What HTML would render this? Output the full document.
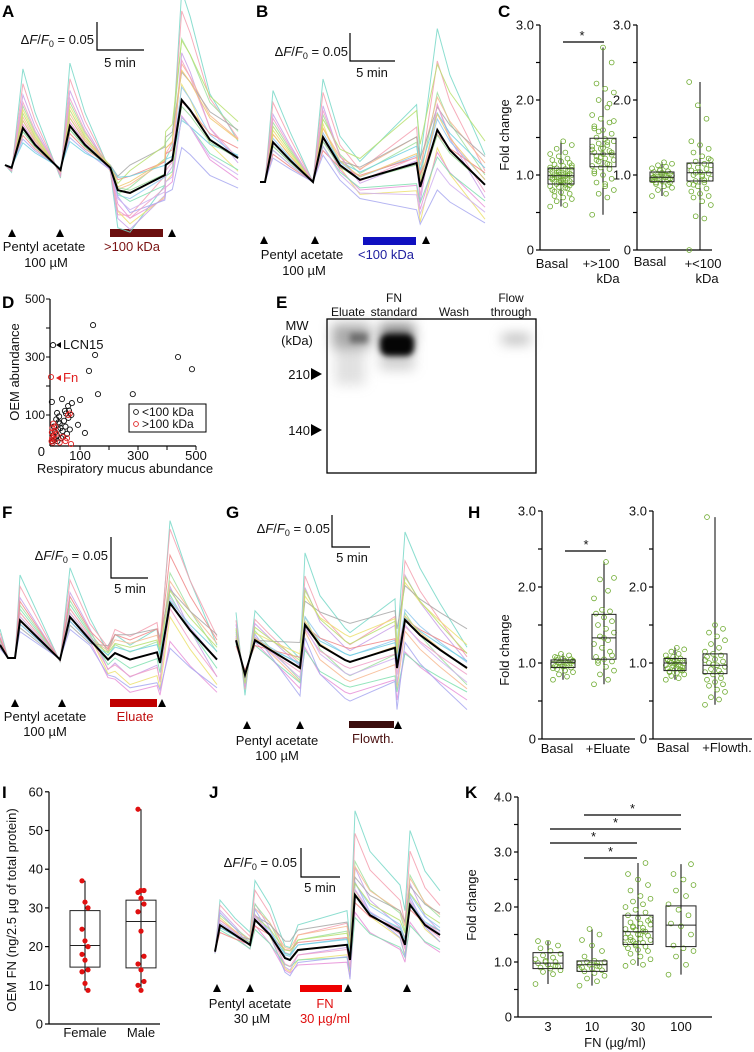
<!DOCTYPE html>
<html><head><meta charset="utf-8">
<style>
html,body{margin:0;padding:0;background:#fff;}
svg{display:block;font-family:"Liberation Sans",Arial,sans-serif;}
.t{font-size:13px;fill:#111;}
.s{font-size:12px;fill:#111;}
.pl{font-size:17px;font-weight:bold;fill:#000;}
</style></head>
<body>
<svg id="fig" width="754" height="1052" viewBox="0 0 754 1052" xmlns="http://www.w3.org/2000/svg">
<defs>
<filter id="blur3" x="-50%" y="-50%" width="200%" height="200%" color-interpolation-filters="sRGB"><feGaussianBlur stdDeviation="3"/></filter>
<filter id="blur6" x="-50%" y="-50%" width="200%" height="200%" color-interpolation-filters="sRGB"><feGaussianBlur stdDeviation="6"/></filter>
</defs>
<text class="pl" x="2" y="17">A</text>
<text class="pl" x="256" y="17">B</text>
<text class="pl" x="498" y="17">C</text>
<text class="pl" x="2" y="308">D</text>
<text class="pl" x="276" y="308">E</text>
<text class="pl" x="2" y="518">F</text>
<text class="pl" x="226" y="518">G</text>
<text class="pl" x="468" y="518">H</text>
<text class="pl" x="2" y="798">I</text>
<text class="pl" x="209" y="798">J</text>
<text class="pl" x="465" y="798">K</text>

<g>
<text class="t" x="94" y="44" text-anchor="end">Δ<tspan font-style="italic">F</tspan>/<tspan font-style="italic">F</tspan><tspan font-size="9" dy="3">0</tspan><tspan dy="-3"> = 0.05</tspan></text>
<path d="M97 22 V50 H144" stroke="#000" fill="none" stroke-width="1.2"/>
<text class="t" x="120" y="67" text-anchor="middle">5 min</text>
</g>
<text class="t" x="44" y="251" text-anchor="middle">Pentyl acetate</text>
<text class="t" x="46" y="267" text-anchor="middle">100 µM</text>
<rect x="110" y="229" width="53" height="8" fill="#6b0f0f"/>
<text class="t" x="132" y="251" text-anchor="middle" style="fill:#7a1212">&gt;100 kDa</text>

<g>
<text class="t" x="348" y="56" text-anchor="end">Δ<tspan font-style="italic">F</tspan>/<tspan font-style="italic">F</tspan><tspan font-size="9" dy="3">0</tspan><tspan dy="-3"> = 0.05</tspan></text>
<path d="M350 33 V61 H395" stroke="#000" fill="none" stroke-width="1.2"/>
<text class="t" x="372" y="77" text-anchor="middle">5 min</text>
</g>
<text class="t" x="302" y="259" text-anchor="middle">Pentyl acetate</text>
<text class="t" x="304" y="275" text-anchor="middle">100 µM</text>
<rect x="363" y="237" width="53" height="8" fill="#1010c0"/>
<text class="t" x="386" y="259" text-anchor="middle" style="fill:#2020a0">&lt;100 kDa</text>

<g>
<text class="t" x="108" y="560" text-anchor="end">Δ<tspan font-style="italic">F</tspan>/<tspan font-style="italic">F</tspan><tspan font-size="9" dy="3">0</tspan><tspan dy="-3"> = 0.05</tspan></text>
<path d="M111 537 V578 H148" stroke="#000" fill="none" stroke-width="1.2"/>
<text class="t" x="130" y="593" text-anchor="middle">5 min</text>
</g>
<text class="t" x="45" y="721" text-anchor="middle">Pentyl acetate</text>
<text class="t" x="45" y="736" text-anchor="middle">100 µM</text>
<rect x="110" y="699" width="47" height="8" fill="#c00000"/>
<text class="t" x="135" y="721" text-anchor="middle" style="fill:#c01010">Eluate</text>

<g>
<text class="t" x="330" y="533" text-anchor="end">Δ<tspan font-style="italic">F</tspan>/<tspan font-style="italic">F</tspan><tspan font-size="9" dy="3">0</tspan><tspan dy="-3"> = 0.05</tspan></text>
<path d="M332 515 V547 H370" stroke="#000" fill="none" stroke-width="1.2"/>
<text class="t" x="352" y="562" text-anchor="middle">5 min</text>
</g>
<text class="t" x="277" y="745" text-anchor="middle">Pentyl acetate</text>
<text class="t" x="277" y="760" text-anchor="middle">100 µM</text>
<rect x="349" y="721" width="45" height="7" fill="#3a0c0c"/>
<text class="t" x="373" y="743" text-anchor="middle" style="fill:#4a1010">Flowth.</text>

<g>
<text class="t" x="297" y="867" text-anchor="end">Δ<tspan font-style="italic">F</tspan>/<tspan font-style="italic">F</tspan><tspan font-size="9" dy="3">0</tspan><tspan dy="-3"> = 0.05</tspan></text>
<path d="M301 848 V877 H340" stroke="#000" fill="none" stroke-width="1.2"/>
<text class="t" x="320" y="892" text-anchor="middle">5 min</text>
</g>
<text class="t" x="250" y="1008" text-anchor="middle">Pentyl acetate</text>
<text class="t" x="252" y="1023" text-anchor="middle">30 µM</text>
<rect x="300" y="985" width="42" height="7" fill="#ee0000"/>
<text class="t" x="325" y="1008" text-anchor="middle" style="fill:#e01010">FN</text>
<text class="t" x="325" y="1023" text-anchor="middle" style="fill:#e01010">30 µg/ml</text>

<g>
<rect x="327" y="319" width="209" height="154" fill="#fff" stroke="#000" stroke-width="1.3"/>
<g filter="url(#blur6)">
<rect x="332" y="324" width="38" height="24" fill="#555555" opacity="0.5"/>
<rect x="335" y="345" width="30" height="40" fill="#888888" opacity="0.25"/>
<rect x="380" y="324" width="34" height="24" fill="#333333" opacity="0.6"/>
<rect x="380" y="350" width="34" height="20" fill="#666666" opacity="0.3"/>
<rect x="502" y="334" width="28" height="10" fill="#777777" opacity="0.5"/>
</g>
<g filter="url(#blur3)">
<rect x="380" y="334" width="34" height="22" rx="8" fill="#050505"/>
<rect x="350" y="333" width="18" height="10" fill="#444444" opacity="0.6"/>
</g>
</g>
<text class="s" x="348" y="316" text-anchor="middle">Eluate</text>
<text class="s" x="394" y="302" text-anchor="middle">FN</text>
<text class="s" x="394" y="316" text-anchor="middle">standard</text>
<text class="s" x="454" y="316" text-anchor="middle">Wash</text>
<text class="s" x="511" y="302" text-anchor="middle">Flow</text>
<text class="s" x="511" y="316" text-anchor="middle">through</text>
<text class="t" x="297" y="330" text-anchor="middle">MW</text>
<text class="t" x="297" y="345" text-anchor="middle">(kDa)</text>
<text class="t" x="310" y="379" text-anchor="end">210</text>
<polygon points="311,368 322,374 311,380" fill="#000"/>
<text class="t" x="310" y="435" text-anchor="end">140</text>
<polygon points="311,424 322,430 311,436" fill="#000"/>

<text class="t" transform="translate(509,135) rotate(-90)" text-anchor="middle">Fold change</text>
<text class="t" transform="translate(509,650) rotate(-90)" text-anchor="middle">Fold change</text>
<text class="t" transform="translate(476,905) rotate(-90)" text-anchor="middle">Fold change</text>
<text class="t" x="615" y="1047" text-anchor="middle">FN (µg/ml)</text>
<text class="t" transform="translate(16,910) rotate(-90)" text-anchor="middle">OEM FN (ng/2.5 µg of total protein)</text>
<text class="t" transform="translate(19,372) rotate(-90)" text-anchor="middle">OEM abundance</text>
<text class="t" x="125" y="473" text-anchor="middle">Respiratory mucus abundance</text>

<g id="marks"></g>
</svg>
<script>
const tA=[0,0.7,1.9,3.2,5.9,6.9,8.5,11.2,12,13.3,17,17.1,17.8,18.8,19.7,21.8,24.8];
const meanA=[0,-0.005,0.066,0.036,-0.009,0.07,0.036,-0.005,-0.045,-0.05,-0.018,0,0.009,0.116,0.098,0.045,0.0125];
const gainA=[2.6,2.2,1.9,1.6,1.5,1.3,1.2,1.1,1.0,0.9,0.8,0.7,1.4,1.7,0.6,1.0,1.2,0.9];
const shiftA=[0.01,0.02,-0.02,0.04,-0.03,0.03,0,-0.04,0.05,-0.02,0.02,-0.05,0.06,-0.01,0.01,-0.03,0.03,0];

const tB=[0,0.56,1.44,3.33,5.89,7,8.89,11.1,17.4,17.8,19.7,21.1,25];
const meanB=[0,0,0.071,0.039,0,0.08,0.03,0.004,0.034,-0.009,0.093,0.057,-0.005];
const gainB=[2.3,2.0,1.7,1.5,1.3,1.2,1.1,1.0,0.9,0.8,0.7,0.6,1.4,1.6,1.0,0.8,1.2,0.9];
const shiftB=[0.06,0.03,-0.02,0.02,-0.06,0.04,0.01,-0.04,0.05,-0.03,0.02,-0.07,0.08,-0.01,0.03,-0.05,0.01,0];

const tF=[0,1.05,1.97,2.63,5.26,7.89,9.21,11.84,14.21,15.13,17.1,20.66,21.05,22.37,25,28.55];
const meanF=[0.016,0,0,0.046,0.022,-0.002,0.05,0.022,-0.002,0.006,-0.002,0.007,-0.006,0.067,0.034,-0.002];
const gainF=[2.2,1.9,1.6,1.4,1.2,1.1,1.0,0.9,0.8,1.3,1.5,0.7,1.0,1.2,0.9,1.1];
const shiftF=[0.02,0.03,-0.02,0.01,-0.03,0.02,0,-0.04,0.03,-0.01,0.025,-0.035,0.015,-0.02,0.01,0];

const tG=[0,1.18,2.5,4.47,8.42,9.08,11.05,14.34,15,20.92,21.18,22.24,24.21,26.84,30.39];
const meanG=[0.031,-0.023,0.031,0.016,-0.0125,0.055,0.023,0,-0.003,0.019,-0.0125,0.0625,0.039,0.016,-0.0125];
const gainG=[2.4,2.0,1.8,1.5,1.3,1.2,1.1,1.0,0.9,0.8,0.7,1.4,1.6,1.0,0.9,1.2,1.1];
const shiftG=[0.05,0.03,0.02,-0.02,0.04,-0.03,0.01,-0.05,0.06,-0.04,0.02,-0.06,0.03,-0.01,0.01,-0.02,0];

const tJ=[0,0.64,2.56,4.49,5.13,7.05,8.97,9.62,10.64,16.92,17.31,17.95,19.87,23.72,24.36,25,26.92,28.85];
const meanJ=[-0.003,0.043,0.026,0.009,0.052,0.026,-0.014,-0.017,0,0.009,-0.017,0.095,0.06,0.031,0.009,0.078,0.043,0.026];
const gainJ=[2.0,1.8,1.6,1.4,1.3,1.2,1.1,1.0,0.9,0.8,0.7,1.5,1.0,1.2,0.9,1.1];
const shiftJ=[0.05,0.03,-0.01,0.02,-0.02,0.03,0.01,-0.03,0.04,-0.02,0.015,-0.025,0.02,-0.01,0.01,0];

const traceColors=['#78d8c8','#f5a0b0','#c9a0e8','#9fe09f','#ece070','#f7b890','#90c8f0','#e890d8','#a8a8a8','#80e0b0','#f08888','#a8a8f0','#b8e070','#f0a0c8','#70d0e0','#d0b0f0','#f0c870','#98d898'];

const cBasal1=[0.58,0.6,0.65,0.68,0.7,0.72,0.75,0.77,0.8,0.82,0.84,0.85,0.87,0.88,0.89,0.9,0.91,0.92,0.93,0.94,0.95,0.96,0.97,0.98,0.99,1.0,1.0,1.01,1.02,1.03,1.04,1.05,1.06,1.07,1.08,1.09,1.1,1.12,1.14,1.16,1.18,1.2,1.22,1.25,1.28,1.3,1.35,1.4,1.45,0.78,0.86,0.92,0.96,1.0,1.04,1.1,0.83,0.97,1.13,0.94];
const cStim1=[0.47,0.7,0.75,0.8,0.85,0.9,0.95,1.0,1.05,1.08,1.1,1.12,1.15,1.18,1.2,1.22,1.25,1.27,1.28,1.3,1.32,1.35,1.38,1.4,1.42,1.45,1.48,1.5,1.55,1.6,1.65,1.7,1.75,1.8,1.9,2.0,2.1,2.15,2.22,2.5,2.7,1.02,1.14,1.24,1.34,1.44,1.58,1.72,0.88,1.2,1.3,1.36,1.62,1.95];
const cBasal2=[0.72,0.75,0.8,0.83,0.85,0.88,0.9,0.92,0.93,0.94,0.95,0.96,0.97,0.98,0.99,1.0,1.01,1.02,1.03,1.04,1.05,1.07,1.09,1.11,1.13,1.15,1.17,0.9,0.95,1.0,0.97,0.87,1.06,0.93,0.99];
const cStim2=[0,0.42,0.45,0.6,0.65,0.7,0.72,0.75,0.78,0.82,0.85,0.88,0.9,0.92,0.95,0.98,1.0,1.02,1.04,1.06,1.08,1.1,1.12,1.15,1.18,1.2,1.25,1.3,1.35,1.4,1.45,1.75,1.93,2.24,0.93,1.03,1.13,1.0,0.87,1.22];
const hBasal1=[0.78,0.82,0.85,0.88,0.9,0.92,0.94,0.95,0.96,0.97,0.98,0.99,1.0,1.01,1.02,1.03,1.04,1.05,1.06,1.08,1.1,1.12,0.93,0.97,1.0,1.03,0.9,1.07];
const hStim1=[0.72,0.78,0.85,0.9,0.95,1.0,1.02,1.05,1.08,1.15,1.2,1.25,1.3,1.35,1.4,1.45,1.5,1.55,1.6,1.65,1.68,1.7,1.85,1.95,2.1,2.12,2.33,1.03,1.1,1.33];
const hBasal2=[0.78,0.8,0.83,0.85,0.87,0.88,0.9,0.92,0.93,0.95,0.96,0.97,0.98,1.0,1.0,1.01,1.02,1.03,1.04,1.05,1.06,1.08,1.1,1.12,1.15,1.18,1.2,0.89,0.94,0.99,1.04,0.91];
const hStim2=[0.45,0.52,0.55,0.62,0.65,0.7,0.72,0.75,0.78,0.8,0.85,0.88,0.9,0.92,0.95,0.97,1.0,1.02,1.05,1.08,1.1,1.12,1.15,1.2,1.25,1.3,1.35,1.4,1.45,1.5,2.92,0.86,0.98,1.04];
const k3=[0.6,0.78,0.82,0.85,0.88,0.9,0.92,0.95,0.98,1.0,1.02,1.05,1.08,1.12,1.15,1.2,1.25,1.3,1.35,1.38,0.93,1.0];
const k10=[0.57,0.65,0.7,0.75,0.8,0.83,0.85,0.88,0.9,0.92,0.95,0.97,0.98,1.0,1.0,1.02,1.1,1.2,1.3,1.4,1.5,1.6,0.87,0.93];
const k30=[0.93,0.95,1.0,1.05,1.1,1.15,1.2,1.22,1.25,1.28,1.3,1.32,1.35,1.38,1.4,1.42,1.45,1.48,1.5,1.52,1.55,1.58,1.6,1.62,1.65,1.68,1.7,1.72,1.75,1.8,1.85,1.9,1.95,2.0,2.05,2.1,2.15,2.2,2.3,2.4,2.5,2.6,2.8,1.33,1.44,1.56,1.63,1.78,1.5,1.4];
const k100=[0.77,0.95,1.1,1.2,1.25,1.3,1.5,1.65,1.7,1.85,1.95,2.05,2.2,2.3,2.4,2.5,2.6,2.78];
const iFemale=[37,31.5,30,24.5,21.5,20,18,16.5,14,13.5,10.5,8.7];
const iMale=[55.5,34.5,34.5,34,32.5,31,29,24,17.5,15.5,14,11,10,8.7];
const statsC=[[0.58,0.88,0.99,1.09,1.45],[0.47,1.11,1.28,1.49,2.7],[0.72,0.91,0.97,1.04,1.17],[0,0.92,1.03,1.16,2.24]];
const statsH=[[0.78,0.94,1.01,1.04,1.12],[0.72,1.05,1.33,1.64,2.33],[0.78,0.9,1.0,1.06,1.2],[0.45,0.86,0.97,1.12,2.92]];
const statsK=[[0.6,0.88,0.98,1.17,1.38],[0.57,0.83,0.95,1.02,1.6],[0.93,1.32,1.55,1.85,2.8],[0.77,1.28,1.67,2.02,2.78]];
const statsI=[[8.7,14.7,20.3,29.3,37],[8.7,14.5,26.5,32,55.5]];
const kCategories=['3','10','30','100'];

const dBlackX=[145,152,131,162,438,486,282,3,38,100,72,59,21,48,93,117,7,10,15,20,25,30,35,40,45,50,55,60,65,12,18,28,42,5,8,22,33,26,52,62,70];
const dBlackY=[410,307,252,172,300,258,172,145,155,152,141,131,107,114,66,38,341,60,40,30,50,70,20,45,80,60,35,90,50,15,85,95,25,10,30,10,55,75,105,115,100];
const dRedX=[0,59,69,55,65,3,5,8,10,4,2,12,6,15,18,9,40,50,30];
const dRedY=[231,100,0,20,105,40,55,70,30,20,10,45,5,60,35,15,25,10,5];

const NS='http://www.w3.org/2000/svg';
const root=document.getElementById('marks');
function mk(tag,attrs,name,parent){
  const el=document.createElementNS(NS,tag);
  for(const k in attrs) el.setAttribute(k,attrs[k]);
  
  
  (parent||root).appendChild(el);
  return el;
}
function txt(x,y,s,name,anchor,cls,fill){
  const el=mk('text',{x:x,y:y,'text-anchor':anchor||'middle','class':cls||'t'},name);
  if(fill) el.setAttribute('style','fill:'+fill);
  el.textContent=s;
  return el;
}

function drawTraces(panel,x0,pxMin,baseY,unitPx,t,mean,gains,shifts,shiftStart,shiftEnd){
  const g=mk('g',{},'traces-'+panel);
  const sx=v=>x0+v*pxMin, sy=v=>baseY-v*unitPx;
  gains.forEach((gn,i)=>{
    const pts=t.map((tt,k)=>{
      let r=Math.max(0,Math.min(1,(tt-shiftStart)/(shiftEnd-shiftStart)));
      const v=gn*mean[k]+shifts[i]*r;
      return sx(tt).toFixed(1)+','+sy(v).toFixed(1);
    }).join(' ');
    mk('polyline',{points:pts,fill:'none',stroke:traceColors[i%traceColors.length],'stroke-width':1,opacity:0.85},'cell-trace-'+panel,g);
  });
  const mp=t.map((tt,k)=>sx(tt).toFixed(1)+','+sy(mean[k]).toFixed(1)).join(' ');
  mk('polyline',{points:mp,fill:'none',stroke:'#000','stroke-width':2},'mean-trace-'+panel,g);
}
drawTraces('a',5,9.4,165,560,tA,meanA,gainA,shiftA,11,13);
drawTraces('b',260,9,182,560,tB,meanB,gainB,shiftB,7,16);
drawTraces('f',0,7.6,658,820,tF,meanF,gainF,shiftF,12,16);
drawTraces('g',236,7.6,660,640,tG,meanG,gainG,shiftG,2,12);
drawTraces('j',215,7.8,950,580,tJ,meanJ,gainJ,shiftJ,2,12);

function arrow(x,y,name){mk('polygon',{points:`${x-4},${y+4} ${x+4},${y+4} ${x},${y-4}`,fill:'#000'},name);}
[[12,233],[60,233],[172,233],[264,240],[315,240],[426,240],[15,703],[62,703],[162,703],[247,725],[300,725],[398,725],[217,988],[250,988],[348,988],[407,988]].forEach(p=>arrow(p[0],p[1],'odor-arrow'));

function yAxis(x,y0,pxU,maxV,step,labels,name){
  const g=mk('g',{},name);
  mk('line',{x1:x,y1:y0,x2:x,y2:y0-maxV*pxU,stroke:'#000','stroke-width':1.2},name+'-line',g);
  for(let v=0;v<=maxV+1e-9;v+=step){
    const y=y0-v*pxU;
    mk('line',{x1:x-4,y1:y,x2:x,y2:y,stroke:'#000','stroke-width':1.2},name+'-tick',g);
    const lab=labels(v);
    if(lab!==null){txt(x-6,y+4.5,lab,name+'-tick-label','end');}
  }
}
function boxGroup(name,cx,w,y0,pxU,stats,vals){
  const g=mk('g',{},name);
  const Y=v=>y0-v*pxU;
  const [mn,q1,md,q3,mx]=stats;
  mk('line',{x1:cx,y1:Y(mn),x2:cx,y2:Y(mx),stroke:'#000','stroke-width':1},name+'-whisker',g);
  vals.forEach((v,i)=>{
    const off=(((i*7)%11)-5)*(w/12);
    mk('circle',{cx:cx+off,cy:Y(v),r:2.4,fill:'none',stroke:'#6aa82a','stroke-width':0.8},name+'-point',g);
  });
  mk('rect',{x:cx-w/2,y:Y(q3),width:w,height:Y(q1)-Y(q3),fill:'none',stroke:'#222','stroke-width':1},name+'-box',g);
  mk('line',{x1:cx-w/2,y1:Y(md),x2:cx+w/2,y2:Y(md),stroke:'#222','stroke-width':1},name+'-median',g);
}
function one(v){return Math.abs(v-Math.round(v))<1e-6?(v===0?'0':v.toFixed(1)):null;}

yAxis(540,250,75,3,0.5,one,'y-axis-c-left');
mk('line',{x1:540,y1:250,x2:610,y2:250,stroke:'#000','stroke-width':1.2},'x-axis-c-left');
yAxis(637,250,75,3,0.5,one,'y-axis-c-right');
mk('line',{x1:637,y1:250,x2:712,y2:250,stroke:'#000','stroke-width':1.2},'x-axis-c-right');
boxGroup('box-c-basal-1',561,26,250,75,statsC[0],cBasal1);
boxGroup('box-c-gt100',603,26,250,75,statsC[1],cStim1);
boxGroup('box-c-basal-2',662,24,250,75,statsC[2],cBasal2);
boxGroup('box-c-lt100',700,26,250,75,statsC[3],cStim2);
txt(552,268,'Basal','x-label-c-basal-1');
txt(601,268,'+>100','x-label-c-gt100');
txt(608,283,'kDa','x-label-c-gt100-unit');
txt(650,266,'Basal','x-label-c-basal-2');
txt(703,268,'+<100','x-label-c-lt100');
txt(707,283,'kDa','x-label-c-lt100-unit');
mk('line',{x1:563,y1:42,x2:604,y2:42,stroke:'#000','stroke-width':1.2},'significance-bar-c');
txt(582,40,'*','significance-star-c');

yAxis(542,739,76,3,0.5,one,'y-axis-h-left');
mk('line',{x1:542,y1:739,x2:635,y2:739,stroke:'#000','stroke-width':1.2},'x-axis-h-left');
yAxis(653,739,76,3,0.5,one,'y-axis-h-right');
mk('line',{x1:653,y1:739,x2:752,y2:739,stroke:'#000','stroke-width':1.2},'x-axis-h-right');
boxGroup('box-h-basal-1',563,24,739,76,statsH[0],hBasal1);
boxGroup('box-h-eluate',604,24,739,76,statsH[1],hStim1);
boxGroup('box-h-basal-2',675,22,739,76,statsH[2],hBasal2);
boxGroup('box-h-flowth',715,24,739,76,statsH[3],hStim2);
txt(557,753,'Basal','x-label-h-basal-1');
txt(608,753,'+Eluate','x-label-h-eluate');
txt(673,752,'Basal','x-label-h-basal-2');
txt(727,752,'+Flowth.','x-label-h-flowth');
mk('line',{x1:565,y1:551,x2:606,y2:551,stroke:'#000','stroke-width':1.2},'significance-bar-h');
txt(586,549,'*','significance-star-h');

yAxis(518,1017,55,4,0.5,one,'y-axis-k');
mk('line',{x1:518,y1:1017,x2:712,y2:1017,stroke:'#000','stroke-width':1.2},'x-axis-k');
const kCenters=[548,592,638,681];
const kVals=[k3,k10,k30,k100];
kCategories.forEach((c,i)=>{
  boxGroup('box-k-'+c,kCenters[i],30,1017,55,statsK[i],kVals[i]);
  txt(kCenters[i],1031,c,'x-label-k-'+c);
});
[[584,681,815],[550,681,829],[550,637,843],[584,637,858]].forEach((s)=>{
  mk('line',{x1:s[0],y1:s[2],x2:s[1],y2:s[2],stroke:'#000','stroke-width':1.2},'significance-bar-k');
  txt((s[0]+s[1])/2,s[2]-2,'*','significance-star-k');
});

(function(){
  const y0=1024,pxU=3.87;
  yAxis(49,y0,pxU,60,10,v=>String(Math.round(v)),'y-axis-i');
  mk('line',{x1:49,y1:y0,x2:160,y2:y0,stroke:'#000','stroke-width':1.2},'x-axis-i');
  [[85,statsI[0],iFemale,'female'],[141,statsI[1],iMale,'male']].forEach(([cx,st,vals,nm])=>{
    const g=mk('g',{},'box-i-'+nm);
    const Y=v=>y0-v*pxU;
    mk('line',{x1:cx,y1:Y(st[0]),x2:cx,y2:Y(st[4]),stroke:'#000','stroke-width':1},'whisker-i',g);
    mk('rect',{x:cx-15,y:Y(st[3]),width:30,height:Y(st[1])-Y(st[3]),fill:'none',stroke:'#222','stroke-width':1},'box-i',g);
    mk('line',{x1:cx-15,y1:Y(st[2]),x2:cx+15,y2:Y(st[2]),stroke:'#222','stroke-width':1},'median-i',g);
    vals.forEach((v,i)=>{
      const off=((i%3)-1)*3;
      mk('circle',{cx:cx+off,cy:Y(v),r:2.6,fill:'#e01010'},'point-i-'+nm,g);
    });
  });
  txt(85,1037,'Female','x-label-i-female');
  txt(141,1037,'Male','x-label-i-male');
})();

(function(){
  const X=v=>51+v*0.29, Y=v=>444-v*0.29;
  mk('line',{x1:50,y1:446,x2:50,y2:Y(500),stroke:'#000','stroke-width':1.2},'y-axis-d');
  mk('line',{x1:50,y1:446,x2:X(500),y2:446,stroke:'#000','stroke-width':1.2},'x-axis-d');
  [100,200,300,400,500].forEach(v=>{
    mk('line',{x1:46,y1:Y(v),x2:50,y2:Y(v),stroke:'#000','stroke-width':1},'y-tick-d');
    mk('line',{x1:X(v),y1:446,x2:X(v),y2:450,stroke:'#000','stroke-width':1},'x-tick-d');
  });
  [100,300,500].forEach(v=>{
    txt(45,Y(v)+4,String(v),'y-tick-label-d','end','s');
    txt(X(v),460,String(v),'x-tick-label-d','middle','t');
  });
  txt(45,456,'0','origin-label-d','end','t');
  dBlackX.forEach((v,i)=>mk('circle',{cx:X(v),cy:Y(dBlackY[i]),r:2.6,fill:'none',stroke:'#111','stroke-width':0.9},'point-lt100'));
  dRedX.forEach((v,i)=>mk('circle',{cx:X(v),cy:Y(dRedY[i]),r:2.6,fill:'none',stroke:'#e02020','stroke-width':0.9},'point-gt100'));
  mk('polygon',{points:'56,345 61,342 61,348',fill:'#000'},'lcn15-pointer');
  txt(63,349,'LCN15','lcn15-label','start','t');
  mk('polygon',{points:'56,378 61,375 61,381',fill:'#e02020'},'fn-pointer');
  txt(63,382,'Fn','fn-label','start','t','#e02020');
  const lg=mk('g',{},'legend-d');
  mk('rect',{x:129,y:404,width:77,height:28,fill:'#fff',stroke:'#000','stroke-width':1},'legend-box',lg);
  mk('circle',{cx:136,cy:412,r:2.4,fill:'none',stroke:'#111','stroke-width':0.9},'legend-marker-lt100',lg);
  txt(142,416,'<100 kDa','legend-entry-lt100','start','s');
  mk('circle',{cx:136,cy:424,r:2.4,fill:'none',stroke:'#e02020','stroke-width':0.9},'legend-marker-gt100',lg);
  txt(142,428,'>100 kDa','legend-entry-gt100','start','s');
})();
</script>
</body></html>
